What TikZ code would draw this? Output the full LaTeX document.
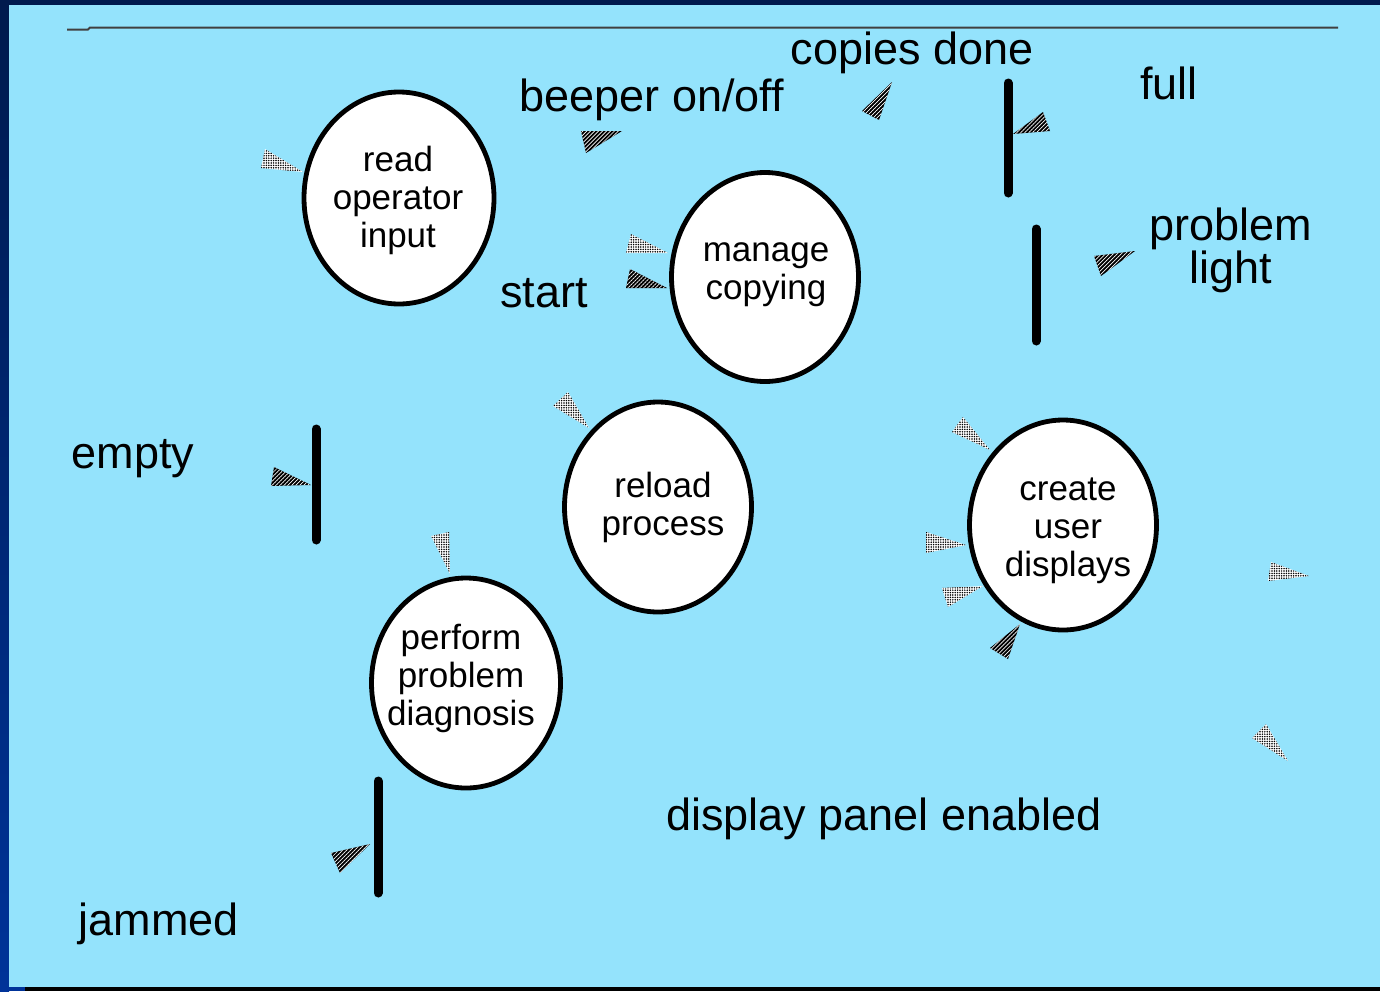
\documentclass[tikz,border=0pt]{standalone}
\usepackage{fontspec}
\setmainfont{Liberation Sans}
\usetikzlibrary{shapes.geometric,patterns.meta}
\definecolor{panel}{RGB}{148,227,252}
\definecolor{navytop}{RGB}{0,26,77}
\definecolor{navybot}{RGB}{0,51,153}
\begin{document}
\begin{tikzpicture}[x=1pt,y=-1pt,
  state/.style={ellipse, draw=black, line width=4.8pt, fill=white, inner sep=0pt},
  lbl/.style={font=\fontsize{45}{50}\selectfont, inner sep=0pt, anchor=base},
  statetext/.style={font=\fontsize{35}{38}\selectfont, align=center, inner sep=0pt},
  bar/.style={line width=9pt, line cap=round},
  headdark/.style={preaction={fill=black}, pattern={Lines[angle=45,distance=2.8pt,line width=0.7pt]}, pattern color=white},
  headlight/.style={preaction={fill=white}, pattern={Dots[distance=2.4pt,radius=0.85pt]}, pattern color=black}]

% frame and panel
\useasboundingbox (0,0) rectangle (1380,991);
\fill[navytop] (0,0) rectangle (1380,991);
\shade[top color=navytop, bottom color=navybot] (0,0) rectangle (9,991);
\fill[panel] (9,5) rectangle (1380,987);
\fill[navybot] (0,987) rectangle (25,991);
\fill[black] (25,987) rectangle (1380,991);

% rule across the top
\draw[black!75, line width=2pt] (67,29.5) -- (88,29.5) -- (90,27.5) -- (1338,27.5);

% processes
\node[state, minimum width=190pt, minimum height=212pt] (rop) at (399,198) {};
\node[state, minimum width=187pt, minimum height=209pt] (mc)  at (765,277) {};
\node[state, minimum width=187pt, minimum height=210pt] (rp)  at (658,507) {};
\node[state, minimum width=187pt, minimum height=210pt] (cud) at (1063,525) {};
\node[state, minimum width=189pt, minimum height=210pt] (ppd) at (466,683) {};

\node[statetext] (rop-t) at (398,200.5) {read\\operator\\input};
\node[statetext] (mc-t)  at (766,275) {manage\\copying};
\node[statetext] (rp-t)  at (663,507) {reload\\process};
\node[statetext] (cud-t) at (1068,530.5) {create\\user\\displays};
\node[statetext] (ppd-t) at (461,678.5) {perform\\problem\\diagnosis};

% flows and stores
\draw[bar] (1008,83) -- (1008,193);
\draw[bar] (1036,229) -- (1036,341);
\draw[bar] (316,429) -- (316,540);
\draw[bar] (378,781) -- (378,893);

% labels
\node[lbl] (copies) at (912,64) {copies done};
\node[lbl] (beeper) at (652,111) {beeper on/off};
\node[lbl] (full)   at (1169,99) {full};
\node[lbl, align=center, font=\fontsize{45}{43}\selectfont] (light) at (1231,283) {problem\\light};
\node[lbl] (start)  at (544,307) {start};
\node[lbl] (empty)  at (133,468) {empty};
\node[lbl] (jammed) at (159,935) {jammed};
\node[lbl] (panelon) at (884,830) {display panel enabled};

% arrowheads
\path[headlight] (265,149) -- (261,168) -- (303,172) -- cycle;
\path[headdark]  (622,131) -- (581,131) -- (586,153) -- cycle;
\path[headdark]  (892,82) -- (862,111) -- (879,120) -- cycle;
\path[headlight] (631,234) -- (626,253) -- (668,253) -- cycle;
\path[headdark]  (630,269) -- (626,288) -- (667,288) -- cycle;
\path[headdark]  (1013,134) -- (1043,112) -- (1050,131) -- cycle;
\path[headdark]  (1135,251) -- (1094,256) -- (1101,276) -- cycle;
\path[headlight] (568,392) -- (553,406) -- (589,428) -- cycle;
\path[headlight] (963,417) -- (952,432) -- (990,450) -- cycle;
\path[headlight] (926,532) -- (926,553) -- (966,545) -- cycle;
\path[headlight] (942,588) -- (948,607) -- (983,586) -- cycle;
\path[headdark]  (1020,624) -- (990,648) -- (1008,659) -- cycle;
\path[headlight] (1271,562) -- (1268,581) -- (1309,576) -- cycle;
\path[headlight] (1266,724) -- (1252,738) -- (1288,761) -- cycle;
\path[headdark]  (274,467) -- (271,486) -- (311,485) -- cycle;
\path[headlight] (431,536) -- (449,532) -- (450,574) -- cycle;
\path[headdark]  (370,844) -- (331,853) -- (340,873) -- cycle;
\end{tikzpicture}
\end{document}
